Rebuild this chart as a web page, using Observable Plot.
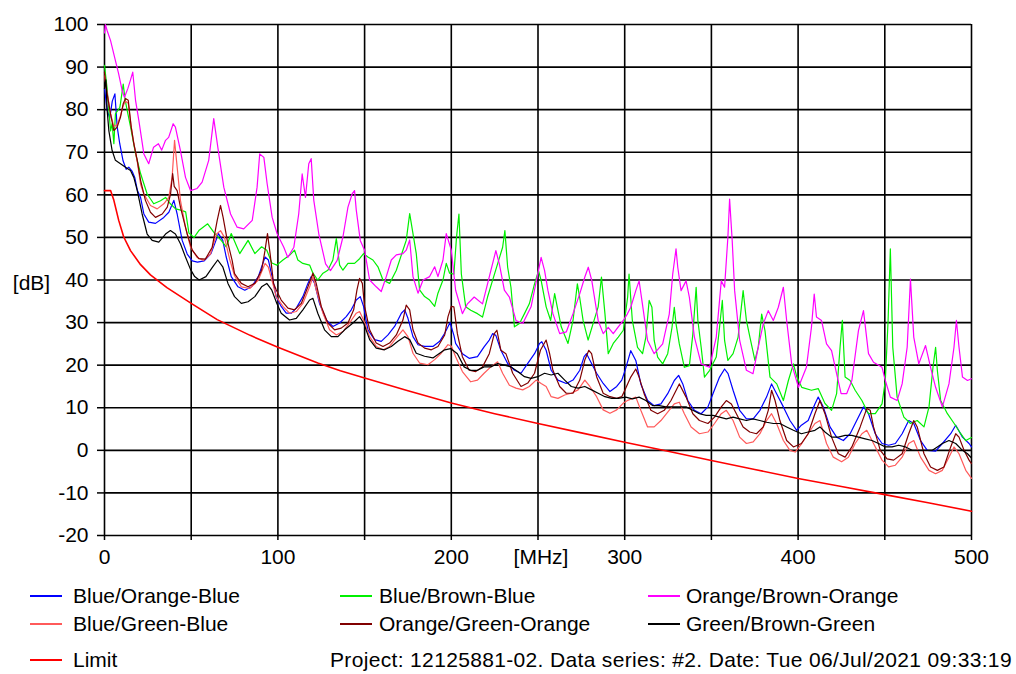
<!DOCTYPE html>
<html>
<head>
<meta charset="utf-8">
<script src="https://cdn.jsdelivr.net/npm/d3@7"></script>
<script src="https://cdn.jsdelivr.net/npm/@observablehq/plot@0.6"></script>
<style>
  html, body { margin: 0; padding: 0; background: #fff; }
  #wrap { position: relative; width: 1016px; height: 674px; font-family: "Liberation Sans", Arial, sans-serif; font-size: 21px; color: #000; }
  .leg { position: absolute; height: 24px; line-height: 24px; white-space: nowrap; }
  .swatch { position: absolute; height: 2px; width: 32px; }
</style>
</head>
<body>
<div id="wrap"></div>
<script>
// ---- Data (frequency MHz, level dB) ----
const xTicks = [0, 50, 100, 150, 200, 250, 300, 350, 400, 450, 500];
const yTicks = [-20, -10, 0, 10, 20, 30, 40, 50, 60, 70, 80, 90, 100];

const seriesNames = ["Blue/Orange-Blue", "Blue/Brown-Blue", "Orange/Brown-Orange",
  "Blue/Green-Blue", "Orange/Green-Orange", "Green/Brown-Green", "Limit"];
const seriesColors = ["#0000ff", "#00f000", "#ff00ff", "#ff5a5a", "#800000", "#000000", "#ff0000"];

const blueOrangeBlue = [[0,85],[1.5,80],[3,78],[4.5,82],[6,83.7],[7.3,76],[8.8,72],[10.7,68],[12.5,66],[14,66.5],[16,65.5],[17.5,64],[19,61],[20.8,59.4],[22.7,55.5],[25.5,53.6],[29.4,53.3],[34.2,54.7],[37.1,55.9],[40,58.7],[41.9,55.5],[44.8,49.3],[47.7,46.1],[50.6,44.5],[53.6,44.2],[57.5,44.5],[61.4,46.2],[64.3,49.3],[65.7,50.9],[68.2,49.3],[70.2,45.4],[73.1,40.8],[77,38.4],[80.9,37.6],[84.8,38.4],[88.7,40.8],[92.6,45.4],[94.5,44.7],[97.5,39.2],[99,36.1],[101.9,33.8],[104.8,32.2],[107.7,32.2],[110.6,33.4],[114.4,36.1],[117.3,39.2],[119.2,40.8],[121.2,39.2],[124,34.5],[127.9,30.6],[131.7,29.1],[135.6,29.9],[139.4,31.4],[142.3,33],[145.2,35.3],[147.5,36.1],[149.4,33.8],[151.9,28.3],[155.8,26],[159.6,25.6],[163.5,27.1],[167.3,29.1],[171.2,32.2],[173.1,33],[175,31],[177.9,26.7],[180.8,24.8],[184.6,24.4],[189.4,24.4],[193.3,25.6],[196.2,27.5],[199.3,30],[201.5,27],[202.5,25.1],[206.4,22.7],[210.3,21.6],[215.1,22],[218.9,24.3],[221.9,25.9],[223.8,27.4],[225.7,27],[228.6,23.5],[232.5,20.4],[236.4,18.8],[240.2,18.1],[244.1,20.4],[248,22.7],[250.9,25.1],[252.2,25.5],[254.7,23.5],[257.6,18.8],[261.5,16.5],[266.3,15.7],[270.2,16.5],[274.1,18.8],[276.6,22],[278,22.7],[280.9,20.4],[283.8,18.1],[287.6,15.7],[291.5,13.8],[295.4,15],[298.3,16.5],[300.4,19],[303.5,23.4],[306.4,21.1],[309.3,15.6],[313.2,11.7],[317,10.5],[320.9,10.9],[324.8,13.3],[328.6,16.4],[331.1,17.6],[333.5,15.6],[336.4,11.7],[340.2,9.4],[344.1,8.6],[348,10.2],[350.9,13.3],[354.7,17.2],[357.6,19.1],[359.6,18],[362.5,14.1],[366.3,9.4],[370.2,7.4],[374.1,7.4],[378,9.4],[381.8,12.5],[384.7,15.6],[387.6,13.3],[391.5,10.2],[395.3,7],[399.2,4.7],[401.9,5.9],[405.8,7],[409.7,10.9],[411.6,12.5],[414.5,10.2],[418.4,5.5],[422.2,3.1],[426.1,2.3],[430,3.9],[433.8,7],[437.7,10.2],[440.6,8.6],[444.5,3.9],[448.4,1.6],[452.2,1.2],[456.1,1.6],[460,3.9],[463.8,7],[466.7,6.3],[470.6,2.3],[474.5,0],[479.3,-0.2],[483.2,1.6],[488,3.9],[490.9,5.9],[494.8,3.1],[498.6,1.6],[500,0.8]];

const blueBrownBlue = [[0,90.4],[1.5,85],[3.5,75],[4.4,76.7],[5.4,72],[6.3,79],[8.8,80.5],[9.2,81.4],[10.8,86],[11.7,82.9],[12.7,80.6],[15,76],[17.9,69.7],[20.8,65],[24.6,60.2],[28.4,57.9],[32.3,58.6],[35.2,59.4],[38,57.9],[41,56.7],[44,56.4],[46.8,56],[48.7,51],[51.7,50],[54.6,51.7],[59.5,53.2],[63.4,51],[67.3,49.3],[70.2,47.8],[73.1,50.9],[78,46.2],[82.8,49.3],[86.7,46.2],[90.6,47.8],[93.6,47],[96.5,44],[99.4,43.5],[102.9,44.7],[106.7,45.8],[109.6,47],[111.5,44.7],[114.4,43.9],[118.3,43.5],[120.2,41.6],[123,40],[126,41.6],[128.8,42.3],[131.7,44.7],[133.7,49.7],[135.6,43.5],[137.5,42.3],[140.4,43.9],[144.2,43.9],[147.1,45],[149.4,46.2],[151.9,45.4],[154.8,44.7],[157.7,43.1],[160.6,40],[164.4,39.2],[168.3,42.3],[172.1,47],[174,49.3],[176,55.6],[177.9,50.9],[179.8,46.2],[181.7,37.7],[184.6,36.1],[187.5,35.3],[190.4,33.8],[192.3,36.9],[195.2,40],[197.1,43.9],[199,41.6],[201.5,41.4],[203,50],[204.4,55.5],[205.8,41.4],[208.3,33.7],[211.2,32.9],[215.1,32.1],[218,31.3],[220.9,36],[223.8,39.9],[226.7,43.8],[229.6,47.7],[230.9,51.6],[232.5,43],[234.4,38.3],[236.4,29],[239.3,29.8],[242.2,32.1],[245,34.4],[248,39.1],[250.3,42.2],[251.8,39.9],[254.7,33.7],[257.3,30.5],[259.6,36.8],[261.1,33.7],[263.4,29],[267.3,25.1],[270.2,30.5],[272.7,39.1],[274,36],[276,30.5],[278.9,25.9],[281.8,29.8],[284.7,33.7],[286.6,40.7],[288.6,32.1],[290.5,22.7],[293.4,25.1],[296.3,26.6],[299.2,28.2],[301.7,36],[302.5,41.4],[304.4,30.5],[307.4,24.2],[310.3,22.7],[312.2,26.6],[314.1,35.2],[315.7,33.6],[317,25.8],[319,21.9],[321.9,20.3],[324.8,22.7],[327.3,28.9],[328.6,33.6],[329.6,29.7],[331.5,25],[334.4,19.5],[337.3,19.9],[339.3,27.3],[341.2,38.3],[342.2,30.5],[344.1,24.2],[346,17.2],[349,18.8],[352.8,21.9],[354.7,28.9],[356.3,35.2],[357.6,25.8],[359.5,21.1],[362.5,22.7],[365.4,26.6],[368.3,37.5],[370.2,30.5],[372.2,26.6],[375.1,21.1],[377,24.2],[379,32],[380.9,28.1],[383.8,17.2],[387.7,15.6],[391.5,11.7],[394.4,16.4],[397.3,20.3],[399.3,17.2],[402.1,14.8],[407.7,14.1],[411.6,14.5],[415.5,11],[419.3,9.4],[422.2,13.3],[424.2,24.2],[425.5,30.5],[427.1,17.2],[430,16.4],[432.9,14.1],[436.8,11.7],[440.6,8.6],[444.5,8.6],[448.4,10.9],[450.3,16.4],[451.9,30.5],[453.2,47.3],[454.6,24.2],[457.1,12.5],[461,7.8],[464.8,6.3],[468.7,7],[472.6,5.5],[475.5,10.2],[477.8,19.5],[479.3,24.2],[480.3,18.8],[482.2,11.7],[486.1,8.6],[490,6.3],[493.8,3.9],[496.7,2.3],[500,3]];

const orangeBrownOrange = [[0,98],[0.5,100],[1.5,98.6],[3.5,96.2],[6.3,91.5],[8.1,88.5],[10.2,84.5],[11.5,82.9],[13.5,85],[15,87],[16.3,88.8],[17.9,82.2],[19.8,77.5],[22.7,69.6],[25.5,67.3],[28.3,71.2],[31.1,72],[33,70.5],[35.2,72.8],[37,73.5],[39.6,76.7],[40.9,75.9],[43.8,70.4],[46.7,64.1],[49.6,61],[53.4,61.5],[56.3,63],[60.1,68.1],[63,77.9],[65.9,69.6],[68.8,61.8],[72.7,55.5],[76.5,52.4],[80.3,52],[85.2,54],[88,61.8],[89.5,69.6],[91.9,68.8],[93.8,62.6],[96.7,54.7],[99.6,50.8],[103.4,47.7],[105.7,45.3],[109.2,47.7],[112,55.5],[114,64.9],[115.9,59.4],[117.8,67.3],[119.2,68.5],[120.7,58.7],[123.6,50.8],[127.5,43.8],[130.3,42.2],[134.2,44.6],[137.5,50.1],[140.4,57.1],[142.9,60.3],[144.2,61],[145.2,56.4],[147.5,49.3],[150,47],[152.9,40],[156.7,38.4],[159.6,37.3],[162.5,40.8],[165.4,44.7],[168.3,45.9],[172.1,46.2],[174,47],[176,49.4],[177.9,40.8],[180.8,36.9],[183.7,40],[187.5,40.8],[190.4,43.1],[192.3,40.8],[195.2,44.7],[197.1,50.9],[200,47],[202.5,37.6],[206.4,32.1],[209.3,34.4],[213.2,36],[218,34.4],[220,37.6],[222.8,42.2],[225.7,46.9],[227.7,43.8],[230.6,37.6],[233.5,36],[237.3,30.5],[241.2,29.8],[246,33.7],[249.5,40.7],[251.8,45.3],[253.8,42.2],[255.7,37.6],[258.6,32.1],[262.5,27.4],[266.3,27.8],[270.2,32.1],[274.1,36.8],[277,40.7],[279,43],[281,39.9],[284.7,30.5],[287.6,27.4],[290.5,28.9],[293.4,27.4],[296.3,29],[299.2,30.5],[301.5,32],[303.5,33.6],[306.4,37.5],[308.3,39.8],[310.2,34.4],[313.2,25.8],[317,22.7],[321.9,25],[325.7,32],[327.7,41.4],[329.6,47.3],[330.6,43],[332.5,37.5],[335.4,39.8],[337.3,35.9],[340.2,26.6],[344.1,20.3],[348.9,19.5],[352.8,26.6],[355.7,39.8],[357.6,38.3],[359.5,50],[360.5,59],[362,49.2],[363.4,37.5],[366.3,25.8],[370.2,18.8],[374,18],[377,24.2],[379.9,29.7],[382.8,32.8],[385.7,30.5],[388.6,33.6],[391.5,38.3],[393.4,30.5],[396.3,20.3],[400.2,14.8],[404.8,19.5],[407.7,28.9],[409.3,36.7],[410.6,31.3],[413.5,30.5],[416.4,25],[419.3,23.4],[422.2,18],[424.8,13.3],[428,13.3],[431,16.4],[434.8,28.1],[437.7,32.8],[440.6,22.7],[443.5,20.7],[448.4,19.5],[450.3,16.4],[453.2,12.5],[457.1,11.7],[460,15.6],[462.9,24.2],[464.8,40.2],[466.7,26.6],[469.6,20.3],[473.5,24.6],[476.4,19.5],[479.3,14.8],[483.2,10.2],[487,15.6],[489.9,24.2],[491.3,30.5],[492.8,24.2],[494.8,17.2],[497.7,16.4],[500,16.8]];

const blueGreenBlue = [[0,88],[1.5,84],[3.5,79],[5.4,76],[7.3,76.5],[9.2,78.5],[10.8,81],[12.1,82],[13.7,81.5],[15.4,76],[17,72],[19,67.5],[20.8,62.5],[22.7,60.2],[26.5,57.5],[30.4,56.7],[34.2,57.9],[37.1,59.4],[39,64.1],[40.4,72.8],[41.9,66.5],[43.8,58.7],[46.7,52.4],[49.6,47.7],[53.4,45.3],[57.2,44.6],[61.1,46.1],[64.6,50.8],[66.9,51.6],[69.2,50],[72.1,45],[75,41],[78.9,38.4],[83.8,38],[88.7,40],[92.6,43.9],[94.5,43],[97.5,38.5],[99,36.1],[102.9,33.8],[106.7,32.2],[110.6,32.6],[114.4,34.5],[118.3,38.4],[120.2,40.8],[122.1,37.7],[126,32.2],[129.8,28.3],[133.7,27.1],[137.5,27.9],[141.3,29.9],[145.2,32.2],[147.1,32.6],[149.4,30.6],[152.9,26.7],[156.7,24.4],[160.6,23.6],[164.4,24.4],[168.3,26.4],[172.1,28.3],[175,26.7],[177.9,22.8],[181.7,20.5],[186.5,20.1],[190.4,21.3],[194.2,22.8],[198.1,24.8],[200,24.5],[202.5,22],[206.4,18.5],[211.2,16.1],[215.1,16.5],[218.9,18.1],[222.8,19.6],[226.7,20.8],[229.6,18.1],[233.5,15.3],[237.3,14.6],[241.2,14.2],[245,15],[248.9,16.5],[251.8,15.7],[254.7,15],[257.6,12.6],[261.5,12.2],[265.4,13],[269.2,13.4],[273.1,14.2],[277,16.5],[279.9,15],[283.8,12.6],[287.6,9.5],[291.5,8.7],[295.4,9.5],[299.2,11.1],[302.1,11.8],[306.4,12.5],[309.3,9.4],[313.2,5.5],[317,5.5],[320.9,7],[324.8,9],[328.6,10.9],[331.5,11.3],[334.4,8.6],[338.3,5.5],[343.1,3.9],[348,4.3],[351.8,6.3],[355.7,8.6],[358.6,9.4],[362.5,7],[366.3,3.1],[370.2,1.6],[374.1,2],[378,3.9],[381.8,7],[384.7,8.6],[387.6,6.3],[391.5,2.3],[395.3,0],[398.3,-0.4],[402.1,1.6],[405.8,3.9],[409.7,6.3],[412.6,7],[416.4,1.6],[420.3,-1.6],[425.1,-2.7],[429,-1.6],[432.9,1.6],[436.8,3.9],[439.6,4.7],[443.5,1.6],[448.4,-2.3],[452.2,-3.9],[456.1,-3.5],[460,-1.6],[463.8,1.6],[466.7,2.3],[470.6,-1.6],[475.5,-4.7],[479.3,-5.5],[483.2,-4.7],[487,-1.6],[489.9,0.8],[492.8,-0.8],[496.7,-4.7],[500,-6.6]];

const orangeGreenOrange = [[0,88.8],[0.7,86],[1.5,83.7],[3.5,79],[5.4,75.1],[7.3,75.9],[9.2,78.2],[10.8,81.4],[12.1,82.6],[13.7,82.2],[15.4,75.9],[16.9,72],[18.9,68.1],[20.8,63.4],[23.6,58.7],[26.5,55.9],[29.4,54.7],[33.3,55.5],[36.2,57.1],[38.1,60.2],[39.3,65],[40.2,62],[41.9,61],[43.8,57.1],[45.7,54],[47.7,50.8],[50.6,47],[54.4,45],[58.2,44.9],[62.1,47.7],[65,54],[66.9,57.5],[68.4,54.7],[70.8,49.3],[73.6,44.6],[75,41.5],[78.9,39.2],[82.8,38.4],[86.7,39.2],[90.6,42.3],[92.6,47],[94,50.9],[95.5,46.2],[97.5,39.2],[99,37.7],[101.9,35.3],[105.8,33.4],[109.6,33],[113.5,34.5],[117.3,38.4],[120.2,41.6],[122.1,39.2],[125,33.8],[128.8,29.9],[132.7,28.3],[136.5,28.7],[140.4,29.9],[143.7,33],[145.6,37.7],[147.1,40.4],[148.7,39.2],[150,33.8],[152.9,28.3],[156.7,25.2],[160.6,24.4],[164.4,25.2],[168.3,27.1],[172.1,30.6],[174,34.1],[176,33],[177.9,28.3],[180.8,25.2],[184.6,24],[188.5,23.6],[192.3,24.4],[196.2,27.1],[198.1,31.4],[200,33.8],[201.5,33.7],[203.5,27.4],[206.4,22],[210.3,18.8],[214.1,18.5],[218,19.6],[221.9,22.7],[224.8,27.4],[226.3,28.2],[228.6,23.5],[231.5,22.7],[235.4,18.1],[240.2,15],[244.1,15.8],[248,18.1],[251.4,23.5],[254.7,25.9],[256.7,22.7],[258.6,18.8],[262.5,15],[266.3,13.4],[270.2,13.4],[274.1,16.5],[277,21.2],[279.3,23.5],[280.9,22.7],[283.8,17.3],[287.6,13.4],[291.5,12.6],[295.4,12.2],[298.3,12.6],[300.2,14.2],[303.5,17.2],[306.4,19.1],[308.3,17.2],[311.2,13.3],[315.1,9.4],[319,8.6],[322.8,9.4],[326.7,11.7],[331.5,15.6],[335.4,12.5],[339.3,8.6],[343.1,7],[348,6.3],[351.8,7.8],[355.7,10.2],[358.6,11.7],[361.5,10.9],[364.4,8.6],[368.3,5.5],[372.1,4.3],[376,3.9],[379.9,5.5],[382.8,9.4],[384.7,14.1],[386.7,11.7],[389.5,7],[393.4,2.3],[397.3,0.8],[401.9,1.6],[405.8,3.9],[409.7,8.6],[412.6,11.7],[415.5,8.6],[419.3,3.1],[423.2,-0.8],[427.1,-1.6],[431,0.8],[435.8,5.5],[439.6,9.8],[441.6,9.4],[443.5,5.5],[447.4,0],[451.3,-2],[455.1,-2.3],[460,-0.8],[463.8,3.9],[466.7,7],[468.7,5.5],[472.6,-0.8],[476.4,-3.9],[480.3,-4.7],[484.1,-3.9],[488,0.8],[490.9,3.9],[492.8,3.1],[495.7,0],[498.6,-2.3],[500,-3.1]];

const greenBrownGreen = [[0,85],[0.8,87],[1.5,80],[2.5,75.1],[4.4,70.4],[6.3,68.1],[9.2,67.3],[12.1,66.5],[15,65.7],[16.9,64.1],[18.9,61],[21.7,55.5],[24.6,50.8],[27.5,49.3],[31.3,48.9],[35.2,50.8],[38,51.6],[40.9,50.8],[43.8,48.5],[46.7,45.4],[49.6,42.5],[52,40.8],[54.6,40],[58.5,40.8],[62.4,43.1],[65.3,44.7],[68.2,43.1],[71.2,39.2],[75,36.1],[78.9,34.5],[82.8,34.9],[86.7,36.1],[90.6,38.4],[93.6,39.2],[96.5,37.6],[99.4,34.5],[101.9,32.2],[106.7,30.6],[110.6,31],[114.4,33],[118.3,35.3],[120.2,35.7],[123,32.2],[126.9,28.3],[130.8,26.7],[134.6,26.7],[138.5,28.3],[143.3,29.9],[147.1,31.4],[149.4,29.9],[152.9,26],[156.7,24],[161.5,23.6],[165.4,24.4],[169.2,25.6],[173.1,26.7],[176,26],[179.8,22.8],[184.6,22.1],[189.4,21.7],[193.3,22.8],[196.2,23.6],[199.6,23.9],[203.5,22.7],[207.4,19.6],[211.2,18.8],[215.1,18.8],[218.9,19.6],[222.8,19.6],[226.7,20.4],[230.6,20],[234.4,19.6],[238.3,18.5],[242.2,17.3],[246,16.9],[249.9,17.3],[253.8,18.1],[257.6,17.7],[261.5,18.1],[265.4,16.5],[269.2,15],[273.1,14.6],[277,15],[280.9,14.2],[284.7,13.4],[288.6,12.6],[292.5,12.2],[296.3,12.2],[300.6,12.5],[304.4,12.1],[308.3,12.5],[312.2,11.7],[316.1,10.5],[319.9,10.5],[323.8,10.2],[327.7,10.2],[331.5,10.2],[335.4,10.2],[339.3,9.4],[343.1,8.6],[347,8.2],[350.9,8.2],[354.7,7.8],[358.6,7.4],[362.5,7.8],[366.3,7.4],[370.2,7],[374,7.4],[377.9,7],[381.8,6.6],[385.7,6.3],[389.5,6.3],[393.4,5.5],[397.3,4.7],[401.9,3.9],[405.8,4.3],[409.7,4.7],[412.6,5.5],[415.5,4.3],[419.3,3.1],[423.2,3.1],[427.1,3.5],[431,3.5],[434.8,3.1],[438.7,2.7],[442.6,2.3],[446.4,1.6],[450.3,0.8],[454.2,0.8],[458,1.2],[461.9,0.8],[465.8,0],[469.6,0],[473.5,0],[477.4,0],[480.3,0.8],[483.2,1.6],[487,2.3],[490.9,1.6],[494.8,0],[497.7,-0.8],[500,-1.8]];

const limit = [[0,61],[3.5,61],[5.4,58.7],[8.2,54],[11.1,50.1],[15,46.9],[20.8,43.6],[26.5,41.2],[36,38.2],[50,34.5],[65,30.7],[84,27],[100,24.2],[123,20.5],[136,18.7],[150,17],[175,14],[200,11.1],[225,8.6],[250,6.3],[275,4.1],[300,1.9],[325,-0.2],[350,-2.4],[375,-4.5],[400,-6.6],[425,-8.5],[450,-10.4],[475,-12.3],[500,-14.3]];

const footerText = "Project: 12125881-02. Data series: #2. Date: Tue 06/Jul/2021 09:33:19";

// ---- Chart ----
const seriesData = [blueOrangeBlue, blueBrownBlue, orangeBrownOrange, blueGreenBlue, orangeGreenOrange, greenBrownGreen, limit];
const drawOrder = [0, 1, 2, 3, 4, 5, 6];

const lineMarks = drawOrder.map(i => Plot.line(seriesData[i], {
  x: d => d[0], y: d => d[1],
  stroke: seriesColors[i],
  strokeWidth: i === 6 ? 1.6 : 1.2
}));

const chart = Plot.plot({
  width: 1016,
  height: 570,
  marginLeft: 104,
  marginRight: 45,
  marginTop: 24,
  marginBottom: 35,
  style: {fontFamily: '"Liberation Sans", Arial, sans-serif', fontSize: "21px", background: "#fff", color: "#000", overflow: "visible"},
  x: {domain: [0, 500]},
  y: {domain: [-20, 100]},
  marks: [
    Plot.gridX(xTicks, {stroke: "#000", strokeOpacity: 1, strokeWidth: 1.6}),
    Plot.gridY(yTicks, {stroke: "#000", strokeOpacity: 1, strokeWidth: 1.6}),
    ...lineMarks,
    Plot.axisX(xTicks, {tickSize: 5, tickPadding: 9, strokeWidth: 1.5, label: null, fontSize: 21,
      tickFormat: d => (d % 100 === 0 ? String(d) : "")}),
    Plot.axisY(yTicks, {tickSize: 7, tickPadding: 9, strokeWidth: 1.5, label: null, fontSize: 21,
      tickFormat: d => String(d)}),
    Plot.text(["[MHz]"], {text: d => d, frameAnchor: "bottom", lineAnchor: "top", dy: 14, dx: 3, fontSize: 21}),
    Plot.text(["[dB]"], {text: d => d, frameAnchor: "left", textAnchor: "middle", dx: -73, dy: 3, fontSize: 21})
  ]
});

const wrap = document.getElementById("wrap");
wrap.appendChild(chart);

// ---- Legend (HTML below the SVG) ----
const legendPos = [
  {sx: 30, tx: 73, cy: 596}, {sx: 340, tx: 379, cy: 596}, {sx: 648, tx: 686, cy: 596},
  {sx: 30, tx: 73, cy: 624}, {sx: 340, tx: 379, cy: 624}, {sx: 648, tx: 686, cy: 624},
  {sx: 30, tx: 73, cy: 660}
];
seriesNames.forEach((name, i) => {
  const p = legendPos[i];
  const sw = document.createElement("div");
  sw.className = "swatch";
  sw.style.left = p.sx + "px";
  sw.style.top = (p.cy - 1) + "px";
  sw.style.background = seriesColors[i];
  wrap.appendChild(sw);
  const t = document.createElement("div");
  t.className = "leg";
  t.style.left = p.tx + "px";
  t.style.top = (p.cy - 12) + "px";
  t.textContent = name;
  wrap.appendChild(t);
});
const foot = document.createElement("div");
foot.className = "leg";
foot.style.left = "330px";
foot.style.top = (660 - 12) + "px";
foot.style.letterSpacing = "0.34px";
foot.textContent = footerText;
wrap.appendChild(foot);
</script>
</body>
</html>
